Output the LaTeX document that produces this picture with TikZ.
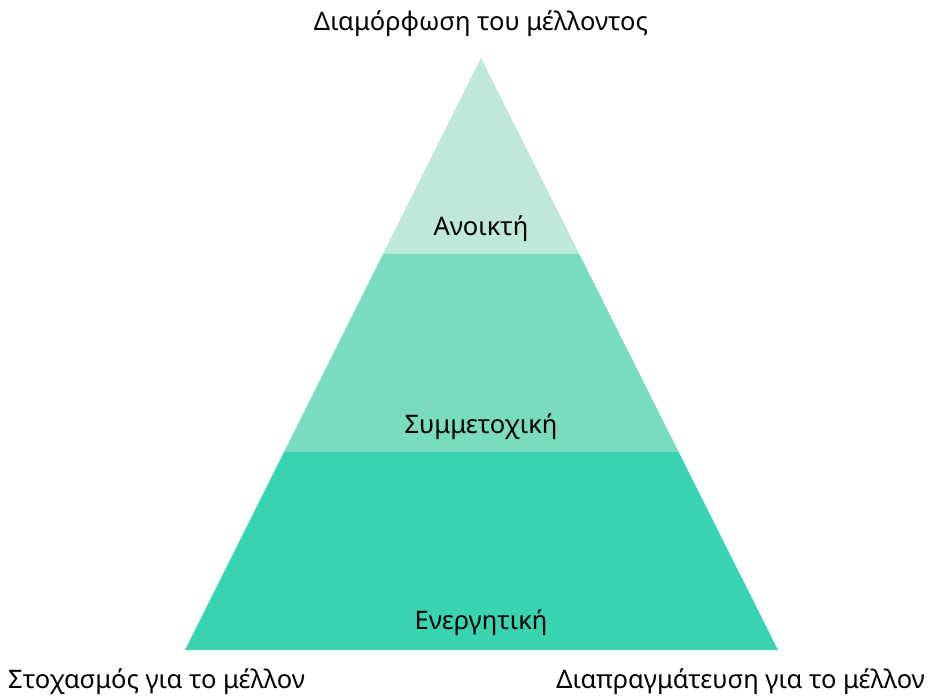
\documentclass[tikz,border=0pt]{standalone}
\usepackage{fontspec}
\setmainfont{Noto Sans}
\usepackage{tikz}
\usetikzlibrary{positioning, calc}
\usepackage{xcolor}
\definecolor{mintlight}{HTML}{BEE9DA}
\definecolor{mintmid}{HTML}{79DBBF}
\definecolor{mintdark}{HTML}{38D3B0}
\tikzstyle{layer}  = [draw=none]
\tikzstyle{label}  = [font=\fontsize{25.5}{28}\selectfont, text=black, inner sep=0pt]

\begin{document}
\begin{tikzpicture}[x=1pt, y=-1pt]
  \useasboundingbox (0,0) rectangle (929,697);

  % Pyramid corners
  \coordinate (apex)  at (481,58);
  \coordinate (baseL) at (185,650);
  \coordinate (baseR) at (778,650);
  \coordinate (cutLa) at ($(apex)!0.331!(baseL)$);
  \coordinate (cutRa) at ($(apex)!0.331!(baseR)$);
  \coordinate (cutLb) at ($(apex)!0.6655!(baseL)$);
  \coordinate (cutRb) at ($(apex)!0.6655!(baseR)$);

  % Layers
  \fill[layer, mintlight] (apex) -- (cutRa) -- (cutLa) -- cycle;
  \fill[layer, mintmid]   (cutLa) -- (cutRa) -- (cutRb) -- (cutLb) -- cycle;
  \fill[layer, mintdark]  (cutLb) -- (cutRb) -- (baseR) -- (baseL) -- cycle;

  % Layer names
  \node (open)   [label] at (481,229) {Ανοικτή};
  \node (part)   [label] at (481,427) {Συμμετοχική};
  \node (active) [label] at (481,623) {Ενεργητική};

  % Outer labels
  \node (shape)  [label] at (481,24) {Διαμόρφωση του μέλλοντος};
  \node (think)  [label, anchor=west] at (8,682) {Στοχασμός για το μέλλον};
  \node (negot)  [label, anchor=east] at (925,682) {Διαπραγμάτευση για το μέλλον};

\end{tikzpicture}
\end{document}
